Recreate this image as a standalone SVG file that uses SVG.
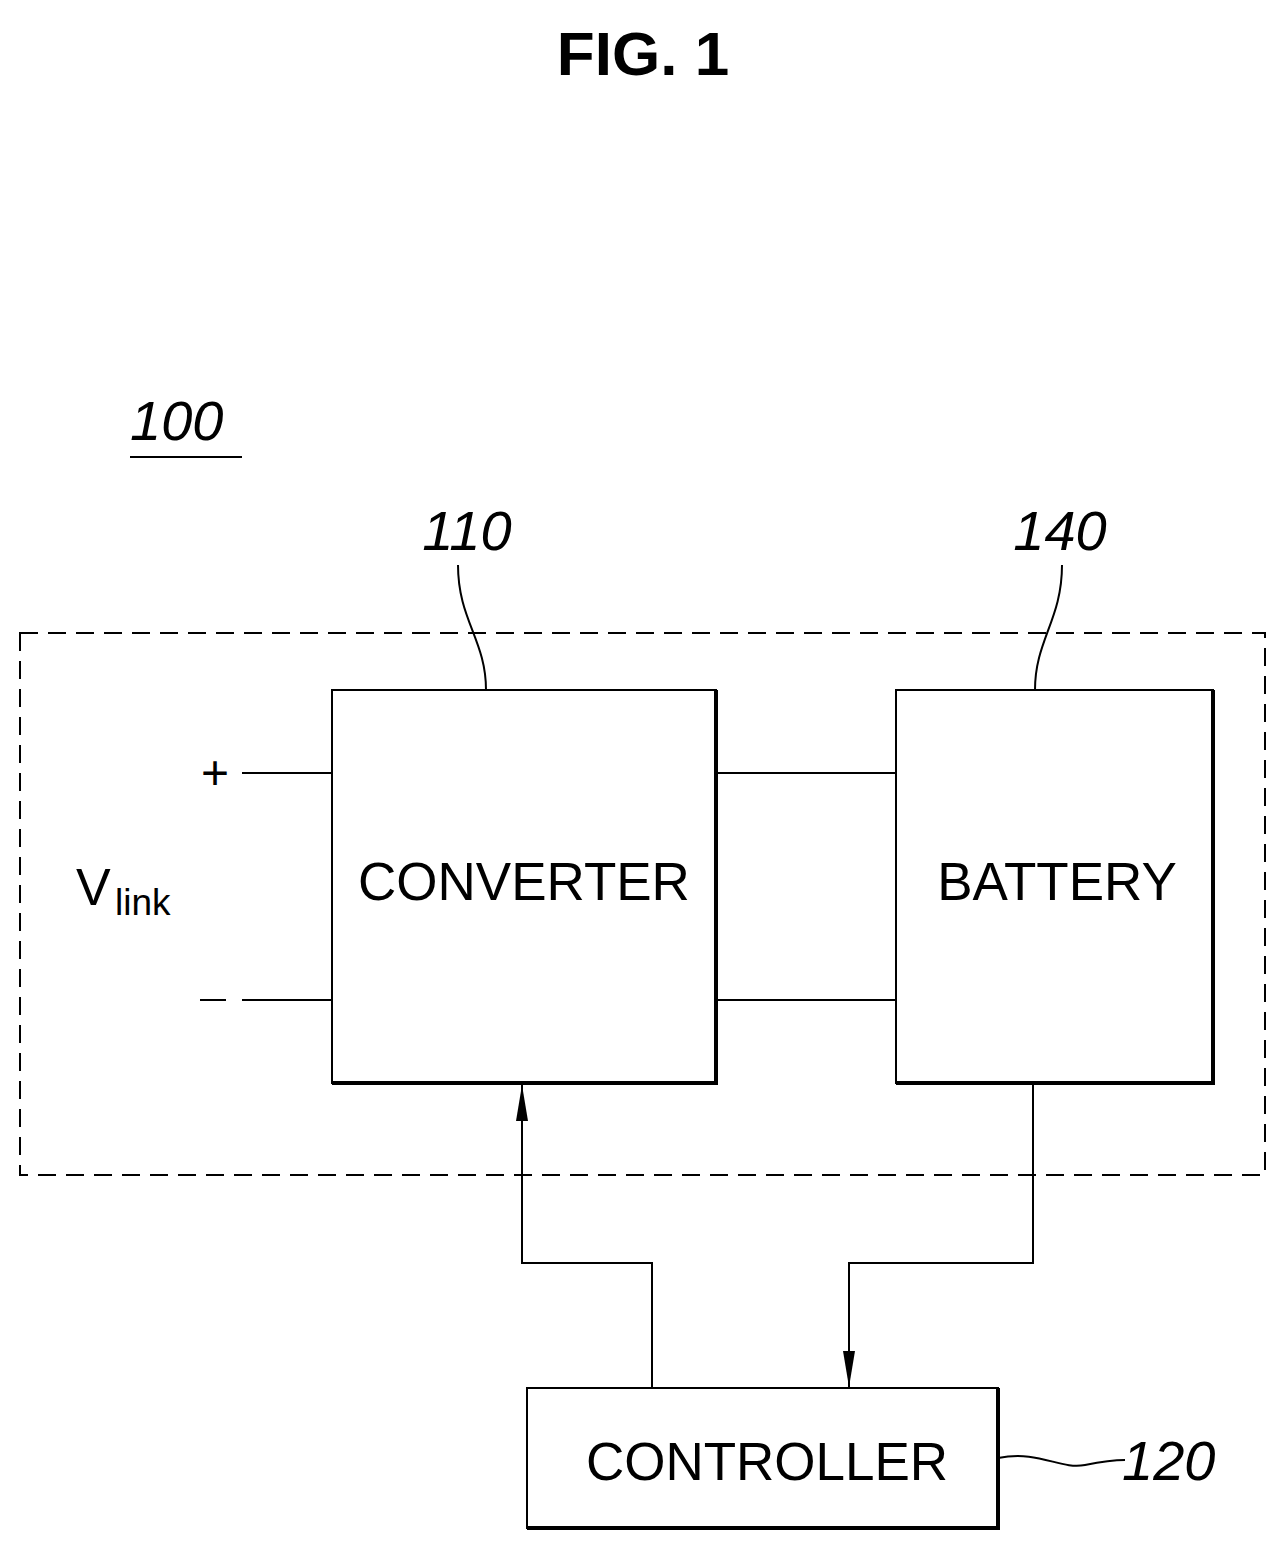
<svg xmlns="http://www.w3.org/2000/svg" width="1286" height="1553" viewBox="0 0 1286 1553">
<defs>
<style>
.ln{stroke:#000;stroke-width:2;fill:none}
.bx{stroke:#000;stroke-width:2;fill:#fff}
.sh{stroke:#000;stroke-width:4;fill:none}
.lbl{font-family:"Liberation Sans",Arial,sans-serif;font-size:53px;fill:#000}
.num{font-family:"Liberation Sans",Arial,sans-serif;font-style:italic;font-size:56px;fill:#000}
</style>
<marker id="ah" markerWidth="36" markerHeight="12" refX="36" refY="6" orient="auto" markerUnits="userSpaceOnUse" viewBox="0 0 36 12">
<path d="M0,0 L36,6 L0,12 Z" fill="#000"/>
</marker>
</defs>
<rect width="1286" height="1553" fill="#fff"/>
<text x="643" y="75" text-anchor="middle" font-family="Liberation Sans,Arial,sans-serif" font-weight="bold" font-size="62">FIG. 1</text>
<g id="system100">
<text x="130" y="440" class="num">100</text>
<line x1="130" y1="457" x2="242" y2="457" class="ln"/>
<rect x="20" y="633" width="1245" height="542" fill="none" stroke="#000" stroke-width="2" stroke-dasharray="18,10"/>
<text x="215" y="789" text-anchor="middle" class="lbl" style="font-size:48px">+</text>
<line x1="200" y1="1000" x2="226" y2="1000" class="ln"/>
<text x="76" y="905" class="lbl" style="font-size:52px">V</text>
<text x="115" y="915" class="lbl" style="font-size:37px">link</text>
</g>
<g id="converter110">
<rect x="332" y="690" width="384" height="393" class="bx"/>
<path d="M716,690 V1083 H332" class="sh"/>
<text x="524" y="900" text-anchor="middle" class="lbl">CONVERTER</text>
<text x="467" y="550" text-anchor="middle" class="num">110</text>
<path d="M486,690 C486,640 458,620 458,565" class="ln"/>
</g>
<g id="battery140">
<rect x="896" y="690" width="317" height="393" class="bx"/>
<path d="M1213,690 V1083 H896" class="sh"/>
<text x="1057" y="900" text-anchor="middle" class="lbl">BATTERY</text>
<text x="1060" y="550" text-anchor="middle" class="num">140</text>
<path d="M1035,690 C1035,640 1062,620 1062,565" class="ln"/>
</g>
<g id="controller120">
<rect x="527" y="1388" width="471" height="140" class="bx"/>
<path d="M998,1388 V1528 H527" class="sh"/>
<text x="767" y="1480" text-anchor="middle" class="lbl">CONTROLLER</text>
<text x="1122" y="1480" class="num">120</text>
<path d="M998,1458 C1040,1450 1060,1470 1085,1465 C1100,1462 1110,1460 1125,1460" class="ln"/>
</g>
<g id="connectors">
<line x1="242" y1="773" x2="332" y2="773" class="ln"/>
<line x1="242" y1="1000" x2="332" y2="1000" class="ln"/>
<line x1="716" y1="773" x2="896" y2="773" class="ln"/>
<line x1="716" y1="1000" x2="896" y2="1000" class="ln"/>
<path d="M652,1388 V1263 H522 V1085" class="ln" marker-end="url(#ah)"/>
<path d="M1033,1085 V1263 H849 V1387" class="ln" marker-end="url(#ah)"/>
</g>
</svg>
